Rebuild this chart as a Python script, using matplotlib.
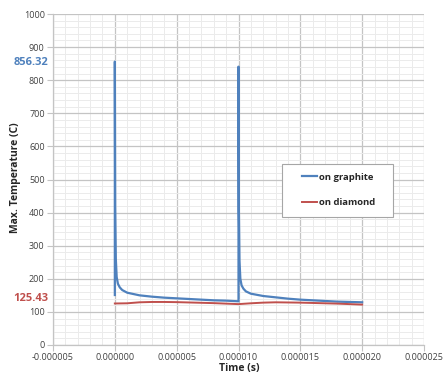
import matplotlib
matplotlib.use("Agg")
import matplotlib.pyplot as plt
from matplotlib.ticker import MultipleLocator, FuncFormatter
import matplotlib.transforms as mtransforms
from matplotlib.patches import Rectangle

# Data (time in seconds, temperature in C)
t_graphite = [0.0, 0.0, 0.03e-6, 0.08e-6, 0.15e-6, 0.25e-6, 0.4e-6, 0.6e-6, 1e-6, 2e-6, 3e-6,
              4e-6, 5e-6, 6e-6, 7e-6, 8e-6, 9e-6, 10e-6,
              10e-6, 10.03e-6, 10.08e-6, 10.15e-6, 10.25e-6, 10.4e-6, 10.6e-6, 11e-6, 12e-6,
              13e-6, 14e-6, 15e-6, 16e-6, 17e-6, 18e-6, 19e-6, 20e-6]
T_graphite = [151, 856.32, 420, 260, 205, 185, 174, 166, 158, 150, 146,
              143, 141, 139, 137, 135, 134, 132,
              841, 410, 255, 200, 180, 170, 162, 155, 148,
              144, 140, 137, 135, 133, 131, 130, 129]

t_diamond = [0.0, 1e-6, 2e-6, 3e-6, 4e-6, 5e-6, 6e-6, 7e-6, 8e-6, 9e-6, 10e-6,
             11e-6, 12e-6, 13e-6, 14e-6, 15e-6, 16e-6, 17e-6, 18e-6, 19e-6, 20e-6]
T_diamond = [125.43, 126, 129, 130, 130, 129.5, 128.5, 127.5, 126.5, 125, 123.5,
             126, 128, 129, 128.5, 128, 127, 126, 125, 123.5, 122]

label_max = "856.32"
label_min = "125.43"

blue = "#4F81BD"
red = "#C0504D"

plt.rcParams['font.family'] = ['Open Sans', 'DejaVu Sans']

fig = plt.figure(figsize=(4.43, 3.78), dpi=100)
ax = fig.add_axes([53/443, 1-345/378, (424-53)/443, (345-14)/378])

ax.plot(t_graphite, T_graphite, color=blue, lw=1.6, label="on graphite")
ax.plot(t_diamond, T_diamond, color=red, lw=1.4, label="on diamond")

ax.set_xlim(-5e-6, 25e-6)
ax.set_ylim(0, 1000)
ax.xaxis.set_major_locator(MultipleLocator(5e-6))
ax.xaxis.set_minor_locator(MultipleLocator(1e-6))
ax.yaxis.set_major_locator(MultipleLocator(100))
ax.yaxis.set_minor_locator(MultipleLocator(20))
ax.xaxis.set_major_formatter(FuncFormatter(lambda v, p: f"{v:.6f}"))
ax.yaxis.set_major_formatter(FuncFormatter(lambda v, p: f"{int(round(v))}"))

ax.grid(which='major', color='#C4C4C4', lw=0.9)
ax.grid(which='minor', color='#EBEBEB', lw=0.7)
ax.set_axisbelow(True)

for s in ['top', 'right']:
    ax.spines[s].set_visible(False)
for s in ['left', 'bottom']:
    ax.spines[s].set_color('#C4C4C4')
    ax.spines[s].set_linewidth(0.9)

ax.tick_params(which='major', length=4, width=0.8, color='#C4C4C4', labelsize=6.5,
               labelcolor='#404040', pad=2)
ax.tick_params(which='minor', length=0)

ax.set_xlabel("Time (s)", fontsize=7.5, fontweight='bold', color='#262626', va='center')
ax.set_ylabel("Max. Temperature (C)", fontsize=7.5, fontweight='bold', color='#262626')
ax.yaxis.set_label_coords((21-53)/371, (345-178)/331)
ax.xaxis.set_label_coords((239-53)/371, (345-369)/331)

trans = mtransforms.blended_transform_factory(fig.transFigure, ax.transData)
ax.text(48/443, 852, label_max, transform=trans, ha='right', va='center',
        fontsize=8, fontweight='bold', color=blue)
ax.text(48/443, 139, label_min, transform=trans, ha='right', va='center',
        fontsize=8, fontweight='bold', color=red)

# legend box
bx0, bx1, by0, by1 = 282, 393, 164, 217
box = Rectangle(((bx0-53)/371, (345-by1)/331), (bx1-bx0)/371, (by1-by0)/331,
                transform=ax.transAxes, facecolor='white', edgecolor='#A6A6A6',
                lw=0.8, zorder=4)
ax.add_patch(box)
leg = ax.legend(loc='center left', bbox_to_anchor=((302-53)/371, (345-190)/331),
                fontsize=6.8, frameon=False, handlelength=1.6,
                handletextpad=0.15, labelspacing=1.75, borderpad=0,
                borderaxespad=0)
leg.set_zorder(5)
for txt in leg.get_texts():
    txt.set_fontweight('bold')
    txt.set_color('#262626')

fig.savefig("out.png", dpi=100)
